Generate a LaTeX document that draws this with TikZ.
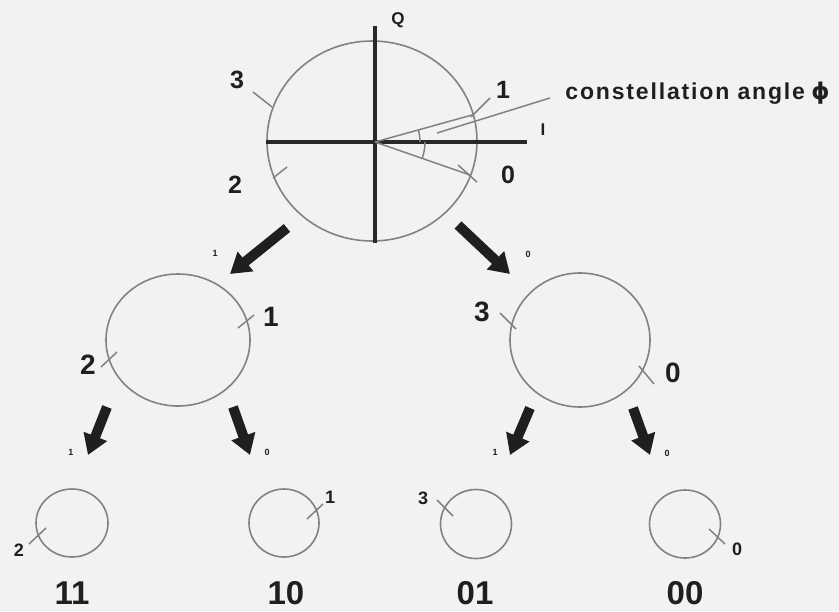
\documentclass[tikz,border=0pt]{standalone}
\usepackage{fontspec}
\setmainfont{Liberation Sans}
\newfontfamily\spacedfont[LetterSpace=8]{Liberation Sans}
\newfontfamily\greekfont{DejaVu Sans}
\usetikzlibrary{arrows.meta,shapes.geometric,calc}
\definecolor{paper}{RGB}{242,242,242}
\definecolor{circGray}{RGB}{130,130,130}
\definecolor{axDark}{RGB}{40,40,40}
\begin{document}
\begin{tikzpicture}[x=0.5pt, y=-0.5pt,
    tCirc/.style={ellipse, draw=circGray, line width=0.8pt, inner sep=0pt},
    tAx/.style={axDark, line width=1.8pt},
    tTick/.style={circGray, line width=0.75pt},
    tArr/.style={-{Triangle[width=12pt,length=10pt]}, line width=5pt, black!88},
    tLbl/.style={font=\bfseries\fontsize{#1}{#1}\selectfont, text=black!88, inner sep=0pt},
    tLbl/.default=12,
]
\fill[paper] (0,0) rectangle (839,611);
\useasboundingbox (0,0) rectangle (839,611);
% top constellation
\node[tCirc, minimum width=105pt, minimum height=100pt] (top) at (372,141) {};
\coordinate (O) at (375,142);
\draw[tAx] (266,142) -- (527,142);
\draw[tAx] (375,26) -- (375,243);
\node[tLbl=8.5] (qLbl) at (398,20) {Q};
\node[tLbl=8.5] (iLbl) at (543,130) {I};
\draw[tTick] (O) -- (472,115);
\draw[tTick] (O) -- (470,175);
\draw[tTick] (437,133) -- (550,98);
\draw[tTick] ($(O)+(45,0)$) arc[start angle=0, end angle=-15.6, radius=45];
\draw[tTick] ($(O)+(50,0)$) arc[start angle=0, end angle=19, radius=50];
\draw[tTick] (253,92) -- (272,107);
\draw[tTick] (273,178) -- (287,167);
\draw[tTick] (471,117) -- (490,98);
\draw[tTick] (458,165) -- (477,182);
\node[tLbl=12.5] (t3) at (237,80) {3};
\node[tLbl=12.5] (t2) at (235,185) {2};
\node[tLbl=12.5] (t1) at (503,90) {1};
\node[tLbl=12.5] (t0) at (508,175) {0};
\node[tLbl=11.5, anchor=west] (phiLbl) at (565,93)
    {{\spacedfont constellation angle} {\greekfont ϕ}};
% first bit
\node[tCirc, minimum width=72pt, minimum height=66pt] (m1) at (178,340) {};
\node[tCirc, minimum width=70pt, minimum height=67pt] (m0) at (580,340) {};
\coordinate (a1s) at (287,228); \coordinate (a1e) at (230,274);
\coordinate (a2s) at (458,225); \coordinate (a2e) at (510,274);
\draw[tArr] (a1s) -- (a1e);
\draw[tArr] (a2s) -- (a2e);
\node[tLbl=4.5] (b1) at (215,253) {1};
\node[tLbl=4.5] (b0) at (528,254) {0};
\draw[tTick] (238,328) -- (254,315);
\draw[tTick] (101,367) -- (117,352);
\draw[tTick] (500,313) -- (516,329);
\draw[tTick] (639,366) -- (654,384);
\node[tLbl=14] (m1a) at (271,317) {1};
\node[tLbl=14] (m1b) at (88,365) {2};
\node[tLbl=14] (m0a) at (482,312) {3};
\node[tLbl=14] (m0b) at (673,373) {0};
% second bit
\node[tCirc, minimum width=36pt, minimum height=34pt] (c11) at (72,523) {};
\node[tCirc, minimum width=35pt, minimum height=34pt] (c10) at (284,523) {};
\node[tCirc, minimum width=35.5pt, minimum height=34.5pt] (c01) at (476,524) {};
\node[tCirc, minimum width=35.5pt, minimum height=34pt] (c00) at (685,524) {};
\coordinate (a3s) at (107,407); \coordinate (a3e) at (88,455);
\coordinate (a4s) at (233,407); \coordinate (a4e) at (250,455);
\coordinate (a5s) at (530,408); \coordinate (a5e) at (510,455);
\coordinate (a6s) at (633,408); \coordinate (a6e) at (650,455);
\draw[tArr] (a3s) -- (a3e);
\draw[tArr] (a4s) -- (a4e);
\draw[tArr] (a5s) -- (a5e);
\draw[tArr] (a6s) -- (a6e);
\node[tLbl=4.5] (b11) at (71,452) {1};
\node[tLbl=4.5] (b10) at (267,452) {0};
\node[tLbl=4.5] (b01) at (495,452) {1};
\node[tLbl=4.5] (b00) at (667,453) {0};
\draw[tTick] (29,544) -- (46,528);
\draw[tTick] (307,519) -- (323,504);
\draw[tTick] (437,500) -- (453,516);
\draw[tTick] (709,529) -- (725,544);
\node[tLbl=9] (s2) at (19,550) {2};
\node[tLbl=9] (s1) at (330,497) {1};
\node[tLbl=9] (s3) at (423,498) {3};
\node[tLbl=9] (s0) at (737,549) {0};
% bit pairs
\node[tLbl=16.5, anchor=base] (w11) at (72,604) {11};
\node[tLbl=16.5, anchor=base] (w10) at (286,604) {10};
\node[tLbl=16.5, anchor=base] (w01) at (475,604) {01};
\node[tLbl=16.5, anchor=base] (w00) at (685,604) {00};
\end{tikzpicture}
\end{document}
